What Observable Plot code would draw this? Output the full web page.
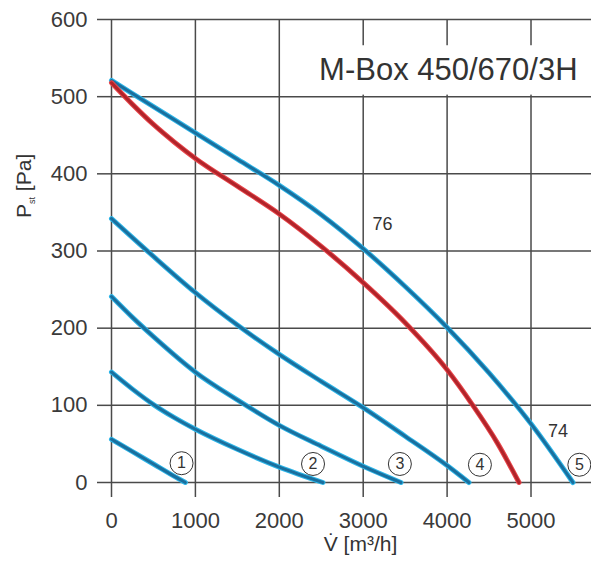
<!DOCTYPE html>
<html><head><meta charset="utf-8">
<script src="https://cdn.jsdelivr.net/npm/d3@7"></script>
<script src="https://cdn.jsdelivr.net/npm/@observablehq/plot@0.6"></script>
<style>body{margin:0;background:#fff} #chart svg{display:block}</style>
</head><body><div id="chart"></div>
<script>
// ---- data ----
const xTicks = [0, 1000, 2000, 3000, 4000, 5000];
const yTicks = [0, 100, 200, 300, 400, 500, 600];

// blue curves (speed steps 1..5), V in m3/h, P in Pa
const curve1V = [0, 250, 500, 750, 880];
const curve1P = [56, 40, 24, 8, 0];
const curve2V = [0, 250, 500, 750, 1000, 1500, 2000, 2520];
const curve2P = [143, 121, 101, 84, 69, 43, 20, 0];
const curve3V = [0, 250, 500, 1000, 1500, 2000, 2500, 3000, 3450];
const curve3P = [241, 214, 189, 143, 107, 74, 47, 21, 0];
const curve4V = [0, 500, 1000, 1500, 2000, 2500, 3000, 3500, 4000, 4260];
const curve4P = [342, 293, 246, 204, 166, 131, 97, 60, 22, 0];
const curve5V = [0, 500, 1000, 1500, 2000, 2500, 3000, 3500, 4000, 4500, 5000, 5500];
const curve5P = [521, 487, 453, 419, 385, 347, 303, 254, 201, 142, 76, 0];
// red curve
const redV = [0, 250, 500, 750, 1000, 1500, 2000, 2500, 3000, 3500, 4000, 4300, 4600, 4857];
const redP = [518, 490, 464, 441, 420, 384, 348, 306, 259, 207, 146, 101, 51, 0];

// circled step labels
const stepLabels = ["1", "2", "3", "4", "5"];
const stepV = [835, 2402, 3437, 4391, 5576];
const stepP = [25, 24, 24, 23, 23];

// curve annotations
const noteText = ["76", "74"];
const noteV = [3230, 5322];
const noteP = [335, 67];

// model title
const titleText = "M-Box 450/670/3H";
const titleV = 5555, titleP = 534;
const titleBoxV = [2250, 5721], titleBoxP = [502, 566];

// ---- build tables ----
const blueSets = [[curve1V, curve1P], [curve2V, curve2P], [curve3V, curve3P], [curve4V, curve4P], [curve5V, curve5P]];
const blue = blueSets.flatMap(([vs, ps], i) => vs.map((v, j) => ({id: i + 1, v, p: ps[j]})));
const red = redV.map((v, j) => ({v, p: redP[j]}));
const steps = stepLabels.map((t, i) => ({t, v: stepV[i], p: stepP[i]}));
const notes = noteText.map((t, i) => ({t, v: noteV[i], p: noteP[i]}));
const title = [{t: titleText, v: titleV, p: titleP, x1: titleBoxV[0], x2: titleBoxV[1], y1: titleBoxP[0], y2: titleBoxP[1]}];

const gridColor = "#4a4a4a";
const font = "'Liberation Sans', Arial, sans-serif";
const fmt = d3.format("d");

const chart = Plot.plot({
  width: 591, height: 564,
  marginLeft: 111, marginRight: 0, marginTop: 19, marginBottom: 82,
  style: {fontFamily: font, background: "white", color: "#333", overflow: "visible"},
  x: {domain: [0, 5721]},
  y: {domain: [0, 600]},
  marks: [
    Plot.gridX({ticks: xTicks, stroke: gridColor, strokeOpacity: 1, strokeWidth: 1.5}),
    Plot.gridY({ticks: yTicks, stroke: gridColor, strokeOpacity: 1, strokeWidth: 1.5}),
    Plot.axisX({ticks: xTicks, tickFormat: fmt, tickSize: 15, tickPadding: 15, fontSize: 22, label: null, stroke: gridColor, strokeWidth: 1.5, fill: "#3a3a3a"}),
    Plot.axisY({ticks: yTicks, tickFormat: fmt, tickSize: 14, tickPadding: 10, fontSize: 22, label: null, stroke: gridColor, strokeWidth: 1.5, fill: "#3a3a3a"}),
    Plot.rect(title, {x1: "x1", x2: "x2", y1: "y1", y2: "y2", fill: "white"}),
    Plot.text(title, {x: "v", y: "p", text: "t", textAnchor: "end", fontSize: 31, fill: "#333"}),
    // blue curves: light halo + dark core
    Plot.line(blue, {x: "v", y: "p", z: "id", stroke: "#2cb5e8", strokeWidth: 5, curve: "monotone-x"}),
    Plot.line(blue, {x: "v", y: "p", z: "id", stroke: "#1a6f9e", strokeWidth: 3, curve: "monotone-x"}),
    // red curve
    Plot.line(red, {x: "v", y: "p", stroke: "#e8454a", strokeWidth: 5, curve: "monotone-x"}),
    Plot.line(red, {x: "v", y: "p", stroke: "#b0242a", strokeWidth: 3, curve: "monotone-x"}),
    Plot.dot(steps, {x: "v", y: "p", r: 11.5, stroke: "#333", strokeWidth: 1, fill: "none"}),
    Plot.text(steps, {x: "v", y: "p", text: "t", fontSize: 16, fill: "#333"}),
    Plot.text(notes, {x: "v", y: "p", text: "t", fontSize: 18, fill: "#333"}),
    Plot.text(["V\u0307 [m³/h]"], {frameAnchor: "bottom", dx: 9, dy: 68, fontSize: 21, fill: "#333"}),
    Plot.text(["Pst [Pa]"], {frameAnchor: "left", rotate: -90, dx: -87, dy: -33, fontSize: 21, fill: "#333"})
  ]
});

// subscript "st" in the y-axis title
d3.select(chart).selectAll("text").filter(function() { return this.textContent === "Pst [Pa]"; })
  .each(function() {
    const t = d3.select(this);
    t.text(null);
    t.append("tspan").text("P");
    t.append("tspan").attr("font-size", 9).attr("dy", 4).text("st");
    t.append("tspan").attr("dy", -4).text(" [Pa]");
  });

document.getElementById("chart").appendChild(chart);
</script>
</body></html>
